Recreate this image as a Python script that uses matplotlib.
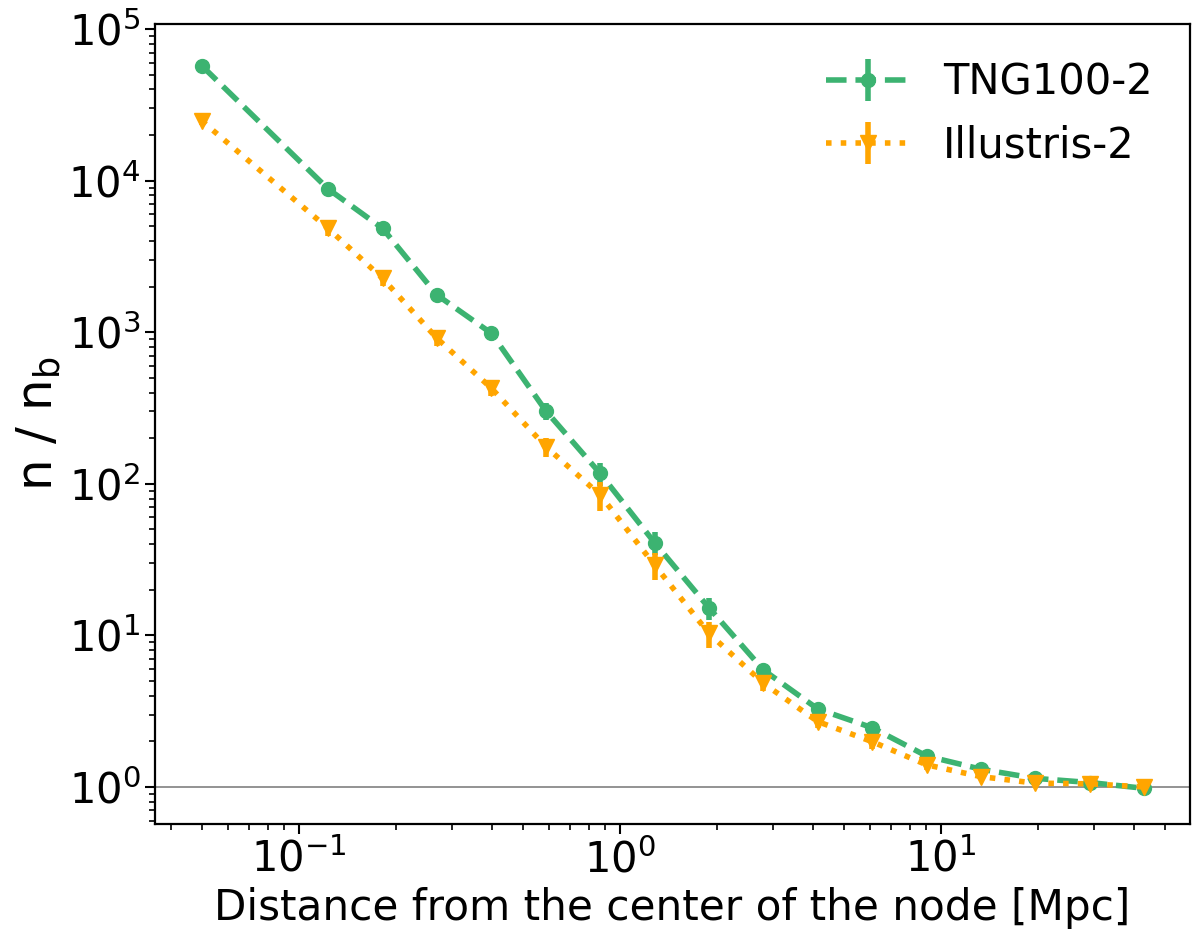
import matplotlib
matplotlib.use("Agg")
import matplotlib.pyplot as plt

# Data
r_mpc = [0.0498, 0.1233, 0.1822, 0.2692, 0.3977, 0.5875, 0.868, 1.282, 1.894,
         2.799, 4.135, 6.109, 9.027, 13.34, 19.70, 29.11, 43.0]

tng_vals = [57300, 8810, 4840, 1760, 984, 303, 117, 40.9, 15.2,
            5.91, 3.27, 2.46, 1.60, 1.31, 1.14, 1.07, 0.98]
tng_err = [2000, 600, 500, 150, 80, 40, 20, 7, 2.5,
           0.6, 0.25, 0.2, 0.08, 0.05, 0.03, 0.02, 0.01]

ill_vals = [24800, 4840, 2266, 911, 427, 176, 84.4, 29.1, 10.3,
            4.83, 2.70, 1.99, 1.40, 1.17, 1.06, 1.05, 1.00]
ill_err = [1500, 500, 250, 100, 50, 25, 18, 6, 2,
           0.5, 0.25, 0.2, 0.1, 0.06, 0.03, 0.02, 0.01]

labels = ["TNG100-2", "Illustris-2"]

fig = plt.figure(figsize=(12, 9.47), dpi=100)
ax = fig.add_axes([155/1200, 1-824/947, (1190-155)/1200, (824-24)/947])

ax.axhline(1.0, color="grey", lw=1.2, zorder=1)

ax.errorbar(r_mpc, tng_vals, yerr=tng_err, color="mediumseagreen", ls="--",
            lw=4, marker="o", ms=10, label=labels[0])
ax.errorbar(r_mpc, ill_vals, yerr=ill_err, color="orange", ls=":",
            lw=4, marker="v", ms=11, label=labels[1])

ax.set_xscale("log")
ax.set_yscale("log")
ax.set_xlim(0.0356, 59.7)
ax.set_ylim(0.57, 1.08e5)

ax.set_xlabel("Distance from the center of the node [Mpc]", fontsize=30.3)
ax.set_ylabel("n / n$_\\mathrm{b}$", fontsize=36)

ax.tick_params(axis="both", which="major", labelsize=30, length=7, width=1.5)
ax.tick_params(axis="both", which="minor", length=4, width=1.2)
for s in ax.spines.values():
    s.set_linewidth(1.6)

ax.legend(loc="upper right", frameon=False, fontsize=30)

fig.savefig("out.png", dpi=100)
